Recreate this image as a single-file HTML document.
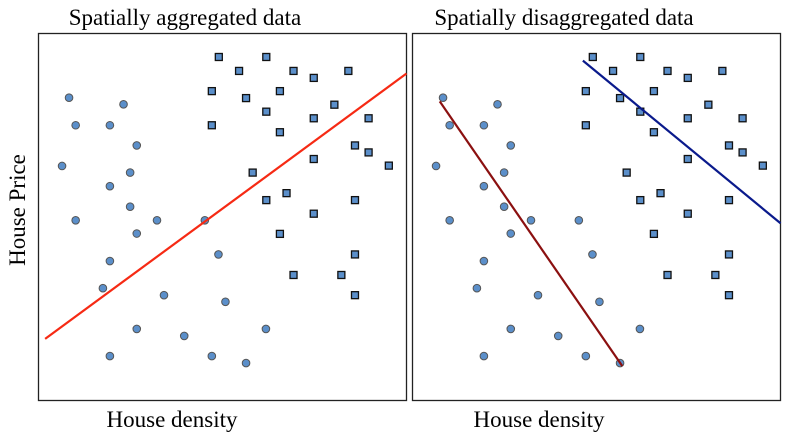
<!DOCTYPE html>
<html><head><meta charset="utf-8"><style>
html,body{margin:0;padding:0;background:#fff}
svg{display:block}
text{font-family:"Liberation Serif",serif;fill:#000}
</style></head><body>
<svg id="c" width="797" height="444">
<text x="185" y="25" font-size="23" text-anchor="middle">Spatially aggregated data</text>
<text x="564" y="25" font-size="23" text-anchor="middle">Spatially disaggregated data</text>
<text x="172" y="427" font-size="23" text-anchor="middle">House density</text>
<text x="539" y="427" font-size="23" text-anchor="middle">House density</text>
<text transform="translate(25,210) rotate(-90)" font-size="23" text-anchor="middle">House Price</text>
</svg>
<script>
const circX=[8.3,23.1,10.1,19.4,26.7,6.4,24.9,19.4,24.9,10.1,32.2,45.2,26.7,48.9,19.4,17.5,34.1,50.8,26.7,39.6,61.8,19.4,47.1,56.4];
const circY=[82.5,80.7,75.0,75.0,69.5,63.9,62.1,58.4,52.8,49.1,49.1,49.1,45.5,39.8,38.0,30.6,28.7,26.9,19.5,17.6,19.5,12.1,12.1,10.2];
const sqX=[49.0,61.9,54.5,69.3,74.8,84.2,47.1,56.4,65.6,80.4,61.9,74.8,89.7,47.1,65.6,86.0,89.7,74.8,95.2,58.2,67.4,61.9,86.0,74.8,65.6,86.0,69.3,82.3,86.0];
const sqY=[93.6,93.6,89.8,89.8,87.9,89.8,84.3,82.4,84.3,80.6,78.7,76.9,76.9,75.0,73.1,69.5,67.6,65.8,64.0,62.1,56.5,54.6,54.6,50.9,45.4,39.8,34.2,34.2,28.7];
const aggLineX=[1.8,100];
const aggLineY=[16.8,89.1];
const circLineX=[7.4,57.0];
const circLineY=[81.5,9.4];
const sqLineX=[46.3,100];
const sqLineY=[92.6,48.3];
const NS='http://www.w3.org/2000/svg';
const svg=document.getElementById('c');
function mk(t,a){const e=document.createElementNS(NS,t);for(const k in a)e.setAttribute(k,a[k]);svg.appendChild(e);return e;}
function panel(x0,name,lines){
  const y0=33.5,w=368,h=367;
  const sx=v=>x0+v/100*w, sy=v=>y0+h-v/100*h;
  const r=mk('rect',{x:x0,y:y0,width:w,height:h,fill:'none',stroke:'#222','stroke-width':1.3});
  
  
  circX.forEach((v,i)=>{
    const c=mk('circle',{cx:sx(v),cy:sy(circY[i]),r:3.8,fill:'#5b8fca',stroke:'#555','stroke-width':1});
    
    
  });
  sqX.forEach((v,i)=>{
    const s=mk('rect',{x:sx(v)-3.5,y:sy(sqY[i])-3.5,width:7,height:7,fill:'#5b8fca',stroke:'#111','stroke-width':1.3});
    
    
  });
  lines.forEach(L=>{
    const l=mk('line',{x1:sx(L.x[0]),y1:sy(L.y[0]),x2:sx(L.x[1]),y2:sy(L.y[1]),stroke:L.c,'stroke-width':2.2});
    
    
  });
}
panel(38.5,'left',[{x:aggLineX,y:aggLineY,c:'#f62a14',n:'aggregated-regression-line'}]);
panel(412.5,'right',[{x:circLineX,y:circLineY,c:'#8b1010',n:'circle-group-regression-line'},{x:sqLineX,y:sqLineY,c:'#0a1a8c',n:'square-group-regression-line'}]);
</script>
</body></html>
